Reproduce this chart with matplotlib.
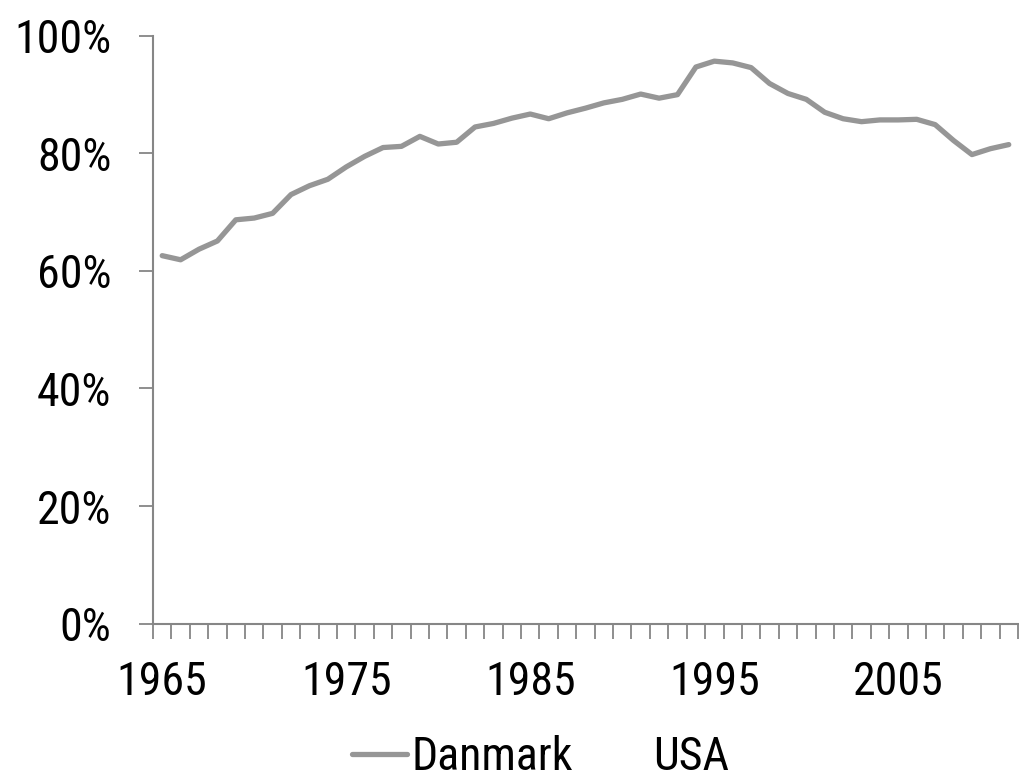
import numpy as np
import matplotlib
matplotlib.use('Agg')
import matplotlib.pyplot as plt
from matplotlib import font_manager
from matplotlib.ticker import FixedLocator, FuncFormatter

# narrow sans like the original, if one is installed
installed = {(f.name, f.stretch) for f in font_manager.fontManager.ttflist}
names = {n for n, s in installed}
stretch = 'normal'
if 'Liberation Sans Narrow' in names:
    family = 'Liberation Sans Narrow'
elif 'Arial Narrow' in names:
    family = 'Arial Narrow'
elif 'Roboto Condensed' in names:
    family = 'Roboto Condensed'
elif 'DejaVu Sans Condensed' in names:
    family = 'DejaVu Sans Condensed'
elif any(n == 'DejaVu Sans' and s == 'condensed' for n, s in installed):
    family, stretch = 'DejaVu Sans', 'condensed'
else:
    family = 'Liberation Sans'
plt.rcParams['font.family'] = [family, 'DejaVu Sans']
plt.rcParams['font.stretch'] = stretch

years = list(range(1965, 2012))
danmark = [62.6, 61.9, 63.7, 65.1, 68.7, 69.0, 69.8, 73.0, 74.5, 75.6,
           77.7, 79.5, 81.0, 81.2, 82.9, 81.6, 81.9, 84.5, 85.1, 86.0,
           86.7, 85.9, 86.9, 87.7, 88.6, 89.2, 90.1, 89.4, 90.0, 94.7,
           95.7, 95.4, 94.6, 91.9, 90.2, 89.2, 87.0, 85.9, 85.4, 85.7,
           85.7, 85.8, 84.9, 82.2, 79.8, 80.8, 81.5]
usa = []  # no visible series in the chart, legend entry only
label_years = [1965, 1975, 1985, 1995, 2005]
yticks = [0, 20, 40, 60, 80, 100]

axis_grey = '#868686'
fs = 33 if family != 'Liberation Sans' else 28

fig = plt.figure(figsize=(10.2, 7.8), dpi=100)
ax = fig.add_axes([0.150, 0.2006, 0.848, 0.7534])

x = np.arange(len(years))
ax.plot(x, danmark, color='#969696', lw=3.8, solid_joinstyle='round',
        solid_capstyle='round', label='Danmark')
ax.plot(x[:len(usa)], usa, color='none', lw=3.8, label='USA')

ax.set_xlim(-0.5, len(years) - 0.5)
ax.set_ylim(0, 100)

# category boundaries as tick marks, year labels at category centres
ax.xaxis.set_major_locator(FixedLocator(np.arange(len(years) + 1) - 0.5))
ax.xaxis.set_major_formatter(FuncFormatter(lambda v, p: ''))
ax.xaxis.set_minor_locator(FixedLocator([years.index(y) for y in label_years]))
ax.set_xticklabels([str(y) for y in label_years], minor=True)
ax.tick_params(axis='x', which='major', direction='out', length=11,
               width=1.3, color=axis_grey)
ax.tick_params(axis='x', which='minor', length=0, pad=26, labelsize=fs)

ax.set_yticks(yticks)
ax.set_yticklabels([f'{v}%' for v in yticks])
ax.tick_params(axis='y', direction='out', length=10, width=1.3,
               color=axis_grey, pad=20, labelsize=fs)

for side in ['top', 'right']:
    ax.spines[side].set_visible(False)
for side in ['left', 'bottom']:
    ax.spines[side].set_color(axis_grey)
    ax.spines[side].set_linewidth(1.5)

h, l = ax.get_legend_handles_labels()
fig.legend(h, l, loc='center', bbox_to_anchor=(0.530, 1 - 757 / 780), ncol=2,
           frameon=False, fontsize=fs, handlelength=1.2, handletextpad=0.1,
           columnspacing=0.45, borderaxespad=0, borderpad=0)

fig.savefig('out.png', dpi=100)
